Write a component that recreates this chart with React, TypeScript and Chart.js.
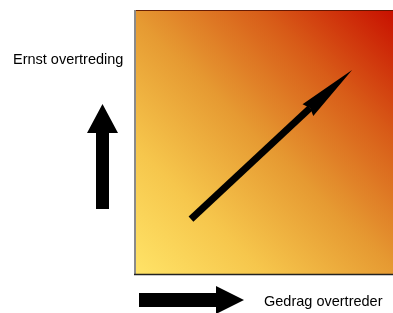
import React, { useEffect, useRef } from "react";
import { Chart, registerables } from "chart.js";

Chart.register(...registerables);

// Axis meanings
const xAxisLabel = "Gedrag overtreder";
const yAxisLabel = "Ernst overtreding";

// Diagonal arrow (data coordinates, 0..10 on both axes)
const arrowShaftX = [2.2, 6.8];
const arrowShaftY = [2.11, 6.3];
const arrowTip = { x: 8.42, y: 7.74 };

// Gradient colour stops (bottom-left -> top-right)
const gradientStops: [number, string][] = [
  [0, "#FFE468"],
  [0.25, "#F6C64C"],
  [0.5, "#E69A32"],
  [0.75, "#D85C18"],
  [1, "#C81000"],
];

const diagramPlugin = {
  id: "diagram",
  beforeDatasetsDraw(chart: any) {
    const { ctx, chartArea } = chart;
    const { left, top, right, bottom } = chartArea;
    ctx.save();
    const g = ctx.createLinearGradient(left, bottom, right, top);
    gradientStops.forEach(([o, c]) => g.addColorStop(o, c));
    ctx.fillStyle = g;
    ctx.fillRect(left, top, right - left, bottom - top);
    // borders
    ctx.lineWidth = 1;
    ctx.strokeStyle = "rgba(90,20,0,0.9)";
    ctx.beginPath();
    ctx.moveTo(left, top + 0.5);
    ctx.lineTo(right, top + 0.5);
    ctx.stroke();
    ctx.strokeStyle = "#8a8a8a";
    ctx.lineWidth = 2;
    ctx.beginPath();
    ctx.moveTo(left + 1, top);
    ctx.lineTo(left + 1, bottom);
    ctx.stroke();
    ctx.strokeStyle = "#222";
    ctx.lineWidth = 1.5;
    ctx.beginPath();
    ctx.moveTo(left, bottom - 0.5);
    ctx.lineTo(right, bottom - 0.5);
    ctx.stroke();
    ctx.restore();
  },
  afterDatasetsDraw(chart: any) {
    const { ctx, chartArea, scales } = chart;
    const { left, bottom } = chartArea;
    ctx.save();
    ctx.fillStyle = "#000";
    // diagonal arrowhead
    const bx = scales.x.getPixelForValue(arrowShaftX[1]);
    const by = scales.y.getPixelForValue(arrowShaftY[1]);
    const tx = scales.x.getPixelForValue(arrowTip.x);
    const ty = scales.y.getPixelForValue(arrowTip.y);
    const dx = tx - bx;
    const dy = ty - by;
    const len = Math.hypot(dx, dy);
    const nx = -dy / len;
    const ny = dx / len;
    const hw = 8;
    const back = 3;
    const ux = dx / len;
    const uy = dy / len;
    ctx.beginPath();
    ctx.moveTo(tx, ty);
    ctx.lineTo(bx + nx * hw - ux * back, by + ny * hw - uy * back);
    ctx.lineTo(bx, by);
    ctx.lineTo(bx - nx * hw - ux * back, by - ny * hw - uy * back);
    ctx.closePath();
    ctx.fill();

    // up arrow (left of chart)
    const ux0 = left - 38; // shaft left
    ctx.beginPath();
    ctx.moveTo(ux0, bottom - 66);
    ctx.lineTo(ux0, bottom - 142);
    ctx.lineTo(ux0 - 9, bottom - 142);
    ctx.lineTo(ux0 + 6.5, bottom - 171);
    ctx.lineTo(ux0 + 22, bottom - 142);
    ctx.lineTo(ux0 + 13, bottom - 142);
    ctx.lineTo(ux0 + 13, bottom - 66);
    ctx.closePath();
    ctx.fill();

    // right arrow (below chart)
    const cy = bottom + 25;
    const rx0 = left + 5;
    ctx.beginPath();
    ctx.moveTo(rx0, cy - 7);
    ctx.lineTo(rx0 + 77, cy - 7);
    ctx.lineTo(rx0 + 77, cy - 14);
    ctx.lineTo(rx0 + 105, cy);
    ctx.lineTo(rx0 + 77, cy + 14);
    ctx.lineTo(rx0 + 77, cy + 7);
    ctx.lineTo(rx0, cy + 7);
    ctx.closePath();
    ctx.fill();

    // labels
    ctx.font = "14.5px 'Liberation Sans', Arial, sans-serif";
    ctx.textBaseline = "alphabetic";
    ctx.textAlign = "left";
    ctx.fillStyle = "#000";
    ctx.fillText(yAxisLabel, 13, 64);
    ctx.fillText(xAxisLabel, left + 130, bottom + 31);
    ctx.restore();
  },
};

export default function App() {
  const ref = useRef<HTMLCanvasElement>(null);
  useEffect(() => {
    if (!ref.current) return;
    const chart = new Chart(ref.current, {
      type: "line",
      data: {
        datasets: [
          {
            data: arrowShaftX.map((x, i) => ({ x, y: arrowShaftY[i] })),
            borderColor: "#000",
            borderWidth: 7,
            borderCapStyle: "butt",
            pointRadius: 0,
            fill: false,
          },
        ],
      },
      plugins: [diagramPlugin],
      options: {
        animation: false,
        responsive: false,
        devicePixelRatio: 1,
        layout: { padding: { left: 134, top: 10, right: 0, bottom: 38 } },
        plugins: { legend: { display: false }, tooltip: { enabled: false } },
        scales: {
          x: { type: "linear", min: 0, max: 10, display: false },
          y: { type: "linear", min: 0, max: 10, display: false },
        },
      },
    });
    return () => chart.destroy();
  }, []);
  return (
    <div style={{ position: "absolute", left: 0, top: 0, width: 393, height: 313, background: "#fff" }}>
      <canvas ref={ref} width={393} height={313} style={{ width: 393, height: 313, display: "block" }} />
    </div>
  );
}
